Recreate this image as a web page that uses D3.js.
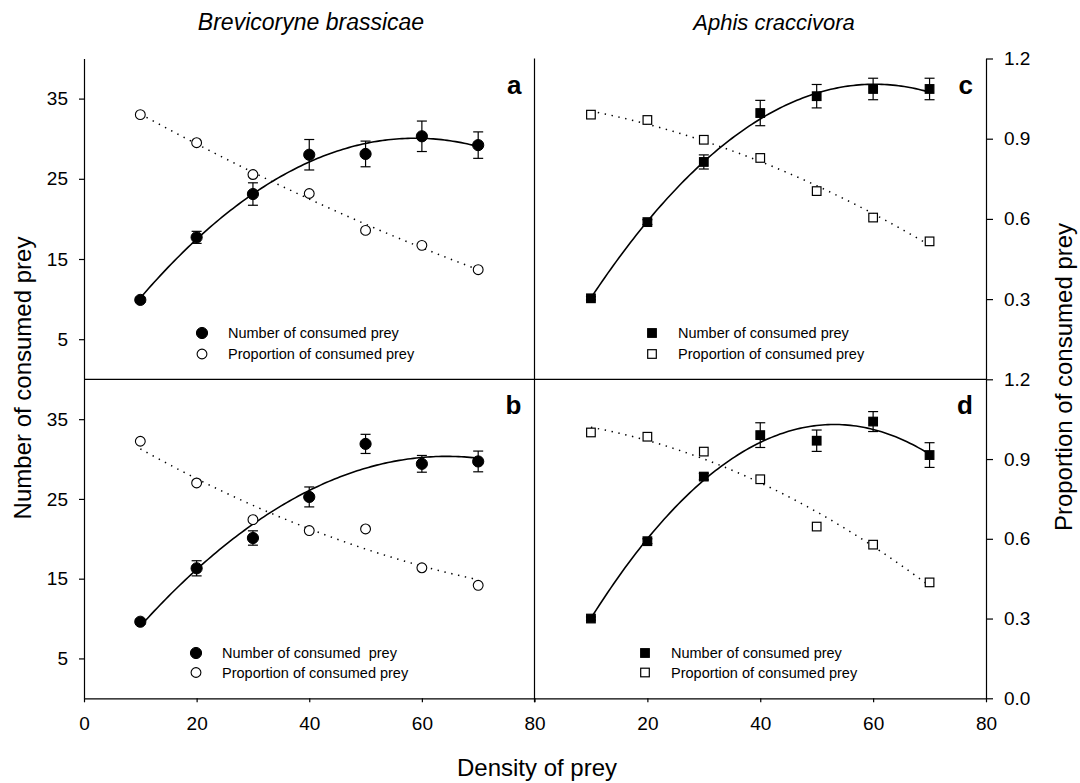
<!DOCTYPE html>
<html><head><meta charset="utf-8">
<script src="https://cdn.jsdelivr.net/npm/d3@7/dist/d3.min.js"></script>
<style>
body{margin:0;background:#fff}
text{font-family:Arial,"Liberation Sans",sans-serif;fill:#000;white-space:pre}
</style>
</head><body>
<svg id="chart" width="1080" height="783"></svg>
<script>
// ---- data ----
const density = [10, 20, 30, 40, 50, 60, 70];

const numA  = [9.9, 17.7, 23.1, 28.0, 28.1, 30.3, 29.2];
const errA  = [0.3, 0.75, 1.4, 1.9, 1.6, 1.9, 1.65];
const propA = [0.99, 0.885, 0.766, 0.695, 0.557, 0.501, 0.41];

const numB  = [9.6, 16.3, 20.1, 25.25, 31.9, 29.4, 29.7];
const errB  = [0.3, 0.95, 0.9, 1.25, 1.2, 1.05, 1.3];
const propB = [0.967, 0.81, 0.672, 0.631, 0.637, 0.491, 0.425];

const numC  = [10.1, 19.6, 27.1, 33.2, 35.3, 36.2, 36.2];
const errC  = [0.2, 0.3, 0.88, 1.58, 1.46, 1.34, 1.34];
const propC = [0.99, 0.97, 0.896, 0.828, 0.704, 0.605, 0.516];

const numD  = [10.0, 19.7, 27.8, 33.0, 32.3, 34.7, 30.5];
const errD  = [0.2, 0.3, 0.4, 1.55, 1.34, 1.25, 1.55];
const propD = [1.0, 0.984, 0.928, 0.824, 0.646, 0.578, 0.436];

const speciesTitles = ["Brevicoryne brassicae", "Aphis craccivora"];
const panelLetters = ["a", "b", "c", "d"];
const legendNumLabels = ["Number of consumed prey", "Number of consumed  prey", "Number of consumed prey", "Number of consumed prey"];
const legendPropLabel = "Proportion of consumed prey";
const yTicksLeft = [5, 15, 25, 35];
const yTicksRightTop = [0.3, 0.6, 0.9, 1.2];
const yTicksRightBottom = [0.0, 0.3, 0.6, 0.9, 1.2];
const xTicksLeft = [0, 20, 40, 60, 80];
const xTicksRight = [20, 40, 60, 80];

// ---- helpers ----
function polyfit2(xs, ys) {
  let S = [0,0,0,0,0], T = [0,0,0];
  xs.forEach((x, i) => {
    let p = 1;
    for (let k = 0; k < 5; k++) { S[k] += p; if (k < 3) T[k] += p * ys[i]; p *= x; }
  });
  const A = [[S[0],S[1],S[2],T[0]],[S[1],S[2],S[3],T[1]],[S[2],S[3],S[4],T[2]]];
  for (let c = 0; c < 3; c++) {
    for (let r = c + 1; r < 3; r++) {
      const f = A[r][c] / A[c][c];
      for (let k = c; k < 4; k++) A[r][k] -= f * A[c][k];
    }
  }
  const b = [0,0,0];
  for (let r = 2; r >= 0; r--) {
    let s = A[r][3];
    for (let k = r + 1; k < 3; k++) s -= A[r][k] * b[k];
    b[r] = s / A[r][r];
  }
  return x => b[0] + b[1] * x + b[2] * x * x;
}

// ---- layout ----
const svg = d3.select("#chart");
const X0 = 84, XM = 534.5, X1 = 986;
const Y0 = 58.5, YM = 379.3, Y1 = 698.3;

const xL = d3.scaleLinear().domain([0, 80]).range([X0, XM]);
const xR = d3.scaleLinear().domain([0, 80]).range([XM, X1]);
const yT = d3.scaleLinear().domain([0, 40]).range([YM, Y0]);
const yB = d3.scaleLinear().domain([0, 40]).range([Y1, YM]);
const pT = d3.scaleLinear().domain([0, 1.2]).range([YM, Y0]);
const pB = d3.scaleLinear().domain([0, 1.2]).range([Y1, YM]);

const panels = [
  {x: xL, y: yT, p: pT, num: numA, err: errA, prop: propA, letter: panelLetters[0], shape: "circle", leg: {x: 202, y: 333, dy: 21}, legNum: legendNumLabels[0]},
  {x: xL, y: yB, p: pB, num: numB, err: errB, prop: propB, letter: panelLetters[1], shape: "circle", leg: {x: 196, y: 653, dy: 19.5}, legNum: legendNumLabels[1]},
  {x: xR, y: yT, p: pT, num: numC, err: errC, prop: propC, letter: panelLetters[2], shape: "square", leg: {x: 652, y: 333, dy: 21}, legNum: legendNumLabels[2]},
  {x: xR, y: yB, p: pB, num: numD, err: errD, prop: propD, letter: panelLetters[3], shape: "square", leg: {x: 645, y: 653, dy: 19.5}, legNum: legendNumLabels[3]}
];

// frame lines
const frame = svg.append("g").attr("stroke", "#000").attr("stroke-width", 1.2);
frame.append("line").attr("x1", X0).attr("x2", X1).attr("y1", YM).attr("y2", YM);
frame.append("line").attr("x1", XM).attr("x2", XM).attr("y1", Y0).attr("y2", Y1 + 4);

// axes
function styleAxis(g, size) {
  g.selectAll("text").style("font-size", size + "px").style("font-family", "Arial, 'Liberation Sans', sans-serif");
  g.selectAll("path.domain, line").attr("stroke", "#000").attr("stroke-width", 1.2);
}
svg.append("g").attr("transform", `translate(${X0},0)`)
  .call(d3.axisLeft(yT).tickValues(yTicksLeft).tickSize(5).tickSizeOuter(0).tickPadding(11))
  .call(g => styleAxis(g, 19));
svg.append("g").attr("transform", `translate(${X0},0)`)
  .call(d3.axisLeft(yB).tickValues(yTicksLeft).tickSize(5).tickSizeOuter(0).tickPadding(11))
  .call(g => styleAxis(g, 19));
svg.append("g").attr("transform", `translate(${X1},0)`)
  .call(d3.axisRight(pT).tickValues(yTicksRightTop).tickFormat(d3.format(".1f")).tickSize(7).tickSizeOuter(0).tickPadding(11))
  .call(g => styleAxis(g, 19));
svg.append("g").attr("transform", `translate(${X1},0)`)
  .call(d3.axisRight(pB).tickValues(yTicksRightBottom).tickFormat(d3.format(".1f")).tickSize(7).tickSizeOuter(0).tickPadding(11))
  .call(g => styleAxis(g, 19));
svg.append("g").attr("transform", `translate(0,${Y1})`)
  .call(d3.axisBottom(xL).tickValues(xTicksLeft).tickSize(4).tickSizeOuter(0).tickPadding(14))
  .call(g => styleAxis(g, 19));
svg.append("g").attr("transform", `translate(0,${Y1})`)
  .call(d3.axisBottom(xR).tickValues(xTicksRight).tickSize(4).tickSizeOuter(0).tickPadding(14))
  .call(g => styleAxis(g, 19));

// panels
const lineGen = (x, y) => d3.line().x(d => x(d[0])).y(d => y(d[1])).curve(d3.curveLinear);

panels.forEach(P => {
  const g = svg.append("g");
  const fNum = polyfit2(density, P.num);
  const fProp = polyfit2(density, P.prop);
  const xs = d3.range(10, 70.01, 0.5);

  // dotted fitted proportion curve
  g.append("path")
    .attr("d", lineGen(P.x, P.p)(xs.map(v => [v, fProp(v)])))
    .attr("fill", "none").attr("stroke", "#000").attr("stroke-width", 1.5)
    .attr("stroke-dasharray", "1.4,5.6");
  // solid fitted number curve
  g.append("path")
    .attr("d", lineGen(P.x, P.y)(xs.map(v => [v, fNum(v)])))
    .attr("fill", "none").attr("stroke", "#000").attr("stroke-width", 1.6);

  // error bars
  const eb = g.append("g").attr("stroke", "#000").attr("stroke-width", 1.2);
  density.forEach((d, i) => {
    const cx = P.x(d), top = P.y(P.num[i] + P.err[i]), bot = P.y(P.num[i] - P.err[i]);
    eb.append("line").attr("x1", cx).attr("x2", cx).attr("y1", top).attr("y2", bot);
    eb.append("line").attr("x1", cx - 5).attr("x2", cx + 5).attr("y1", top).attr("y2", top);
    eb.append("line").attr("x1", cx - 5).attr("x2", cx + 5).attr("y1", bot).attr("y2", bot);
  });

  // markers
  function marker(sel, cx, cy, filled) {
    if (P.shape === "circle") {
      sel.append("circle").attr("cx", cx).attr("cy", cy).attr("r", filled ? 5.6 : 4.9)
        .attr("fill", filled ? "#000" : "#fff").attr("stroke", "#000").attr("stroke-width", filled ? 1 : 1.1);
    } else {
      const s = 8.6;
      sel.append("rect").attr("x", cx - s / 2).attr("y", cy - s / 2).attr("width", s).attr("height", s)
        .attr("fill", filled ? "#000" : "#fff").attr("stroke", "#000").attr("stroke-width", 1.2);
    }
  }
  density.forEach((d, i) => marker(g, P.x(d), P.p(P.prop[i]), false));
  density.forEach((d, i) => marker(g, P.x(d), P.y(P.num[i]), true));

  // panel letter
  const letterX = (P.x === xL ? XM : X1) - 13;
  const letterY = (P.y === yT ? Y0 : YM) + 35;
  g.append("text").attr("x", letterX).attr("y", letterY).attr("text-anchor", "end")
    .style("font-size", "26px").style("font-weight", "bold").text(P.letter);

  // legend
  marker(g, P.leg.x, P.leg.y, true);
  marker(g, P.leg.x, P.leg.y + P.leg.dy, false);
  g.append("text").attr("x", P.leg.x + 26).attr("y", P.leg.y + 5).style("font-size", "14.5px").text(P.legNum);
  g.append("text").attr("x", P.leg.x + 26).attr("y", P.leg.y + P.leg.dy + 5).style("font-size", "14.5px").text(legendPropLabel);
});

// titles and axis labels
svg.append("text").attr("x", 311).attr("y", 30).attr("text-anchor", "middle")
  .style("font-size", "23px").style("font-style", "italic").text(speciesTitles[0]);
svg.append("text").attr("x", 774).attr("y", 30).attr("text-anchor", "middle")
  .style("font-size", "22px").style("font-style", "italic").text(speciesTitles[1]);
svg.append("text").attr("transform", "translate(31,378) rotate(-90)").attr("text-anchor", "middle")
  .style("font-size", "24px").text("Number of consumed prey");
svg.append("text").attr("transform", "translate(1072,377) rotate(-90)").attr("text-anchor", "middle")
  .style("font-size", "24px").text("Proportion of consumed prey");
svg.append("text").attr("x", 537).attr("y", 776).attr("text-anchor", "middle")
  .style("font-size", "24px").text("Density of prey");
</script>
</body></html>
